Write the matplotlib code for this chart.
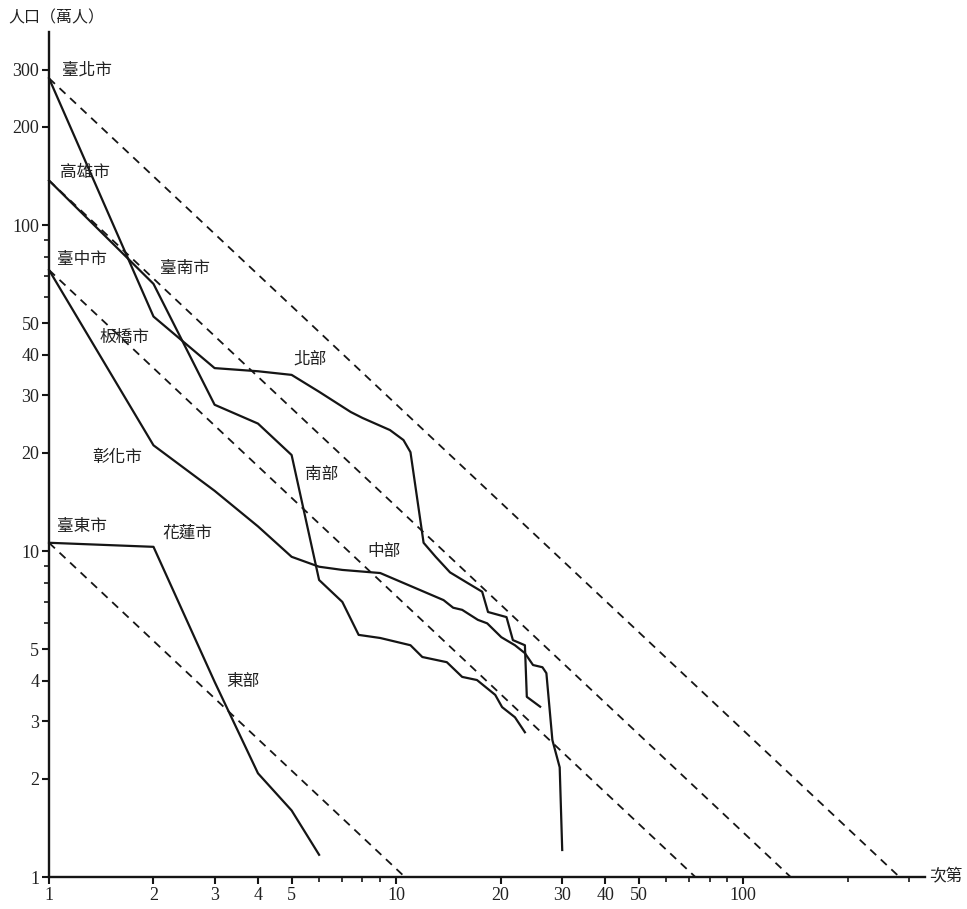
import matplotlib
matplotlib.use('Agg')
from matplotlib import pyplot as plt

cjk_font = ['Noto Sans CJK TC', 'DejaVu Sans']
num_font = 'Liberation Serif'

# rank / population (10k persons)
north_rank = [1, 2, 3, 4, 5, 6, 7.4, 8, 9.6, 10.5, 11, 12, 13, 14.3, 16, 17.7, 18.4, 20.8, 21.7, 23.5, 23.8, 26]
north_pop  = [282, 52.4, 36.4, 35.6, 34.7, 30.8, 26.7, 25.6, 23.5, 21.9, 20.1, 10.6, 9.6, 8.6, 8.0, 7.5, 6.5, 6.27, 5.33, 5.14, 3.57, 3.33]

south_rank = [1, 2, 3, 4, 5, 6, 7, 7.8, 9, 11, 11.9, 14, 15.5, 17.1, 19.3, 20.2, 22, 23.5]
south_pop  = [137, 66, 28.1, 24.6, 19.7, 8.15, 6.98, 5.53, 5.41, 5.14, 4.73, 4.56, 4.11, 4.02, 3.62, 3.32, 3.09, 2.78]

central_rank = [1, 2, 3, 4, 5, 6, 7, 9, 13.7, 14.6, 15.5, 17.2, 18.3, 20.1, 22, 23.5, 24.8, 26.4, 27.1, 28.2, 29.6, 30.1]
central_pop  = [72.8, 21.1, 15.3, 11.9, 9.6, 8.95, 8.75, 8.56, 7.07, 6.7, 6.6, 6.15, 6.0, 5.44, 5.14, 4.86, 4.47, 4.4, 4.22, 2.63, 2.17, 1.21]

east_rank = [1, 2, 3, 4, 5, 6]
east_pop  = [10.6, 10.3, 3.97, 2.08, 1.6, 1.17]

x_labelled = [1, 2, 3, 4, 5, 10, 20, 30, 40, 50, 100]
x_minor    = [6, 7, 8, 9, 60, 70, 80, 90, 200, 300]
y_labelled = [1, 2, 3, 4, 5, 10, 20, 30, 40, 50, 100, 200, 300]
y_minor    = [6, 7, 8, 9, 60, 70, 80, 90]

# (text, rank, population) for the city / region names
labels = [('臺北市', 1.09, 298), ('高雄市', 1.076, 145), ('臺中市', 1.055, 78.2),
          ('臺南市', 2.09, 73.6), ('板橋市', 1.40, 45.3), ('北部', 5.05, 38.7),
          ('彰化市', 1.33, 19.4), ('南部', 5.47, 17.2), ('中部', 8.29, 9.94),
          ('臺東市', 1.055, 11.85), ('花蓮市', 2.12, 11.36), ('東部', 3.24, 3.97)]

fig = plt.figure(figsize=(9.67, 9.09), dpi=100)
ax = fig.add_axes([49 / 967, 32 / 909, 876 / 967, 845 / 909])
ax.set_xscale('log')
ax.set_yscale('log')
ax.set_xlim(1, 334)
ax.set_ylim(1, 391)

ink = '#151515'

for ranks, pops in [(north_rank, north_pop), (south_rank, south_pop),
                    (central_rank, central_pop), (east_rank, east_pop)]:
	ax.plot(ranks, pops, color=ink, lw=1.6, solid_joinstyle='round', clip_on=False)

	# rank-size rule line from the primate city
	p1 = pops[0]
	ax.plot([1, p1], [p1, 1], color=ink, lw=1.3, ls=(0, (4.5, 3.5)), clip_on=False)

for txt, r, p in labels:
	ax.text(r, p, txt, fontsize=12, family=cjk_font, color='#222222', ha='left', va='center')

ax.spines['right'].set_visible(False)
ax.spines['top'].set_visible(False)
ax.spines['left'].set_linewidth(1.7)
ax.spines['bottom'].set_linewidth(1.7)
ax.spines['left'].set_color(ink)
ax.spines['bottom'].set_color(ink)

ax.set_xticks(x_labelled)
ax.set_xticklabels([str(v) for v in x_labelled])
ax.set_xticks(x_minor, minor=True)
ax.set_xticklabels([], minor=True)
ax.set_yticks(y_labelled)
ax.set_yticklabels([str(v) for v in y_labelled])
ax.set_yticks(y_minor, minor=True)
ax.set_yticklabels([], minor=True)

ax.tick_params(which='major', direction='out', length=5, width=1.5, color=ink, pad=2,
               labelsize=13, labelcolor='#222222')
ax.tick_params(which='minor', direction='out', length=3.5, width=1.2, color=ink)
for lab in ax.get_xticklabels() + ax.get_yticklabels():
	lab.set_family(num_font)

ax.text(1.005, 0.0, '次第', transform=ax.transAxes, fontsize=12, family=cjk_font,
        color='#222222', ha='left', va='center')
fig.text(8 / 967, 1 - 18 / 909, '人口（萬人）', fontsize=11.5, family=cjk_font,
         color='#222222', ha='left', va='center')

fig.savefig('out.png', dpi=100)
